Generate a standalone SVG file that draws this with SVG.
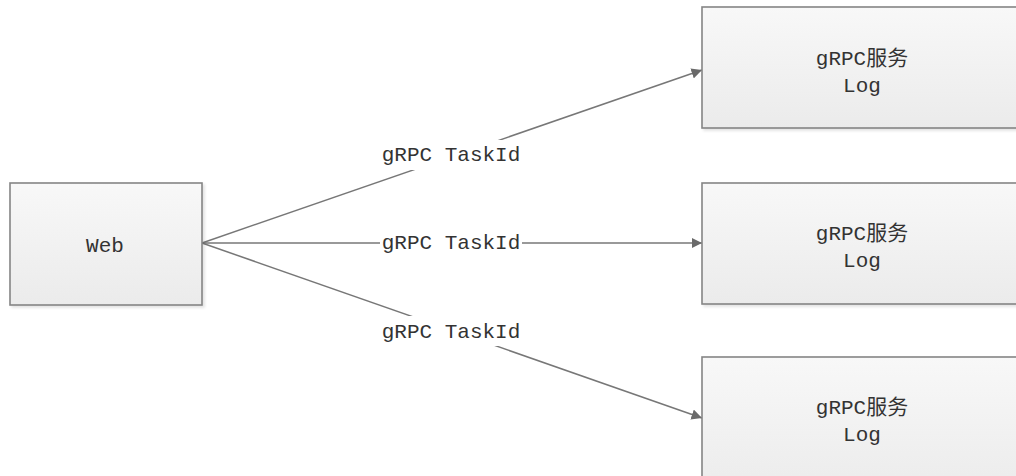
<svg xmlns="http://www.w3.org/2000/svg" width="1016" height="476" viewBox="0 0 1016 476">
  <style>
    .box { fill: url(#boxFill); stroke: #858585; stroke-width: 1.6; filter: url(#shadow); }
    .txt { font-family: "Liberation Mono", "Noto Sans CJK SC", monospace; font-size: 21px; fill: #333333; text-anchor: middle; }
    .edge { stroke: #777777; stroke-width: 1.5; fill: none; marker-end: url(#arrow); }
    .lblbg { fill: #ffffff; }
  </style>
  <defs>
    <linearGradient id="boxFill" x1="0" y1="0" x2="0" y2="1">
      <stop offset="0" stop-color="#f8f8f8"/>
      <stop offset="1" stop-color="#ebebeb"/>
    </linearGradient>
    <!-- faint drop shadow under the boxes -->
    <filter id="shadow" x="-5%" y="-5%" width="112%" height="115%">
      <feGaussianBlur in="SourceAlpha" stdDeviation="1.5"/>
      <feOffset dx="2" dy="2" result="off"/>
      <feComponentTransfer>
        <feFuncA type="linear" slope="0.12"/>
      </feComponentTransfer>
      <feMerge>
        <feMergeNode/>
        <feMergeNode in="SourceGraphic"/>
      </feMerge>
    </filter>
    <marker id="arrow" viewBox="0 0 10 10" refX="10" refY="5" markerWidth="7" markerHeight="7" markerUnits="strokeWidth" orient="auto">
      <path d="M0,0 L10,5 L0,10 z" fill="#6a6a6a"/>
    </marker>
  </defs>

  <rect width="1016" height="476" fill="#ffffff"/>

  <!-- connectors -->
  <g id="connectors">
    <path class="edge" d="M202,243 L702,70"/>
    <path class="edge" d="M202,243 L702,243"/>
    <path class="edge" d="M202,243 L702,418"/>
    <g id="labels">
      <rect class="lblbg" x="380" y="140" width="142" height="30"/>
      <text class="txt" x="451" y="161">gRPC TaskId</text>
      <rect class="lblbg" x="380" y="232" width="142" height="22"/>
      <text class="txt" x="451" y="249">gRPC TaskId</text>
      <rect class="lblbg" x="380" y="316" width="142" height="30"/>
      <text class="txt" x="451" y="338">gRPC TaskId</text>
    </g>
  </g>

  <!-- nodes -->
  <g id="web">
    <rect class="box" x="10" y="183" width="192" height="122"/>
    <text class="txt" x="105" y="252">Web</text>
  </g>

  <g id="log1">
    <rect class="box" x="702" y="7" width="330" height="121"/>
    <text class="txt" x="862" y="65">gRPC服务</text>
    <text class="txt" x="862" y="92">Log</text>
  </g>

  <g id="log2">
    <rect class="box" x="702" y="183" width="330" height="121"/>
    <text class="txt" x="862" y="240">gRPC服务</text>
    <text class="txt" x="862" y="267">Log</text>
  </g>

  <g id="log3">
    <rect class="box" x="702" y="357" width="330" height="140"/>
    <text class="txt" x="862" y="414">gRPC服务</text>
    <text class="txt" x="862" y="441">Log</text>
  </g>
</svg>
